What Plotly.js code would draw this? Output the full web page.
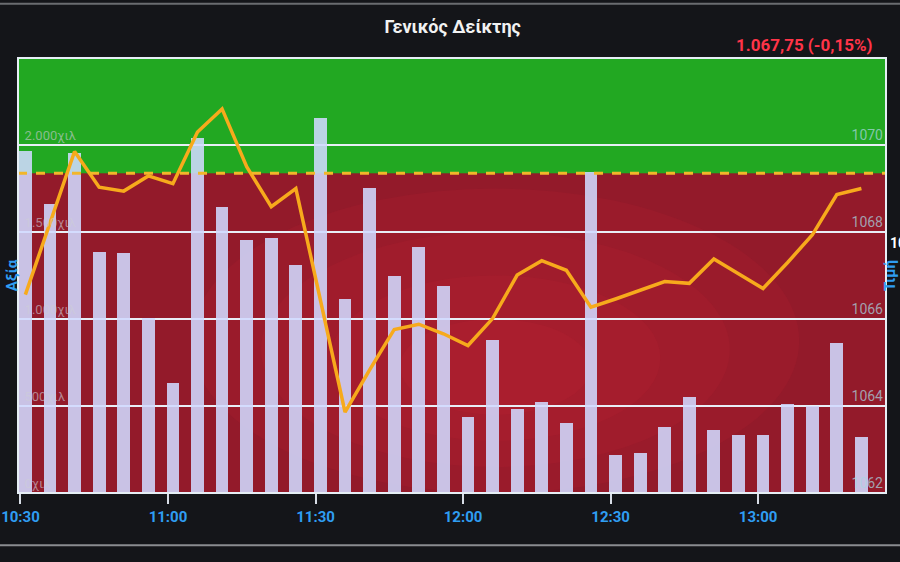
<!DOCTYPE html>
<html>
<head>
<meta charset="utf-8">
<script src="https://cdn.plot.ly/plotly-3.0.1.min.js"></script>
<style>
html,body{margin:0;padding:0;background:#141519;}
#chart{width:900px;height:562px;}
</style>
</head>
<body>
<div id="chart"></div>
<script>
const times = ['10:31','10:36','10:41','10:46','10:51','10:56','11:01','11:06','11:11','11:16','11:21','11:26',
  '11:31','11:36','11:41','11:46','11:51','11:56','12:01','12:06','12:11','12:16','12:21','12:26',
  '12:31','12:36','12:41','12:46','12:51','12:56','13:01','13:06','13:11','13:16','13:21'];
const volumes = [1963,1659,1954,1384,1379,1005,631,2041,1644,1454,1467,1312,
  2157,1113,1755,1247,1416,1192,437,877,485,521,401,1846,
  219,231,377,551,362,334,335,514,500,864,323];
const prices = [1066.56,1068.18,1069.85,1069.03,1068.94,1069.29,1069.11,1070.30,1070.83,1069.50,1068.58,1069.00,
  1066.44,1063.86,1064.83,1065.76,1065.88,1065.66,1065.39,1066.01,1067.01,1067.34,1067.12,1066.27,
  1066.46,1066.65,1066.86,1066.82,1067.38,1067.04,1066.70,1067.30,1067.93,1068.86,1069.00];
const timeTicks = ['10:30','11:00','11:30','12:00','12:30','13:00'];
const volTickVals = [0,500,1000,1500,2000];
const volTickText = ['0χιλ\u2007\u2007\u2007\u2008','500χιλ\u2007\u2008','1.000χιλ','1.500χιλ','2.000χιλ'];
const priceTickVals = [1062,1064,1066,1068,1070];
const priceTickText = ['1062','1064','1066','1068','1070'];
const prevClose = 1069.35;
const lastPrice = '1.067,75 (-0,15%)';
const lastPriceAxis = 1067.75;
const day = '2024-01-01 ';

const x = times.map(t => day + t);

const fontFam = 'Roboto, "DejaVu Sans", sans-serif';

const traces = [
  {
    type: 'bar', x: x, y: volumes, yaxis: 'y', width: 156000,
    marker: {color: 'rgba(208,218,255,0.88)', line: {width: 0}},
    hoverinfo: 'skip'
  },
  {
    type: 'scatter', mode: 'lines', x: x, y: prices, yaxis: 'y2',
    line: {color: '#f7aa1c', width: 3.5},
    hoverinfo: 'skip'
  }
];

const glow = [];
[[0.20,0.90,0.00,0.70,0.10],[0.28,0.82,0.06,0.60,0.10],[0.36,0.74,0.12,0.50,0.10],[0.44,0.66,0.18,0.40,0.10]].forEach(g => {
  glow.push({type: 'circle', xref: 'paper', yref: 'paper', x0: g[0], x1: g[1], y0: g[2], y1: g[3],
    fillcolor: 'rgba(220,40,60,' + g[4] + ')', line: {width: 0}, layer: 'below'});
});

const layout = {
  width: 900, height: 562,
  margin: {l: 18, r: 14, t: 58, b: 69},
  paper_bgcolor: '#141519',
  plot_bgcolor: '#9c1c2b',
  showlegend: false,
  bargap: 0,
  title: {
    text: '<b>Γενικός Δείκτης</b>',
    x: 0.503, xanchor: 'center', y: 0.952, yanchor: 'middle',
    font: {family: fontFam, size: 18, color: '#f2f2f2'}
  },
  xaxis: {
    type: 'date', anchor: 'free', position: 0,
    range: [day + '10:29:30', day + '13:26'],
    tickmode: 'array',
    tickvals: timeTicks.map(t => day + t),
    ticktext: timeTicks,
    ticks: 'outside', ticklen: 10, tickwidth: 2, tickcolor: '#d8dde6',
    tickfont: {family: fontFam, size: 15, color: '#2f9df2', weight: 'bold'},
    ticklabeloverflow: 'allow',
    showgrid: false, zeroline: false,
    showline: false,
    automargin: false
  },
  yaxis: {
    anchor: 'free', position: 0,
    range: [0, 2500],
    tickvals: volTickVals, ticktext: volTickText,
    ticklabelposition: 'outside top',
    ticklabelstandoff: -58,
    tickfont: {family: fontFam, size: 13, color: 'rgba(205,205,215,0.6)'},
    ticks: '',
    showgrid: true, gridcolor: '#e8eef6', gridwidth: 2,
    zeroline: false,
    showline: false,
    title: {text: '<b>Αξία</b>', standoff: 2, font: {family: fontFam, size: 15, color: '#2f9df2'}},
    automargin: false
  },
  yaxis2: {
    overlaying: 'y', side: 'right', anchor: 'free', position: 1,
    range: [1062, 1072],
    tickvals: priceTickVals, ticktext: priceTickText,
    ticklabelposition: 'inside top',
    tickfont: {family: fontFam, size: 14, color: 'rgba(170,215,225,0.72)'},
    ticks: '',
    showgrid: false, zeroline: false, showline: false,
    title: {text: '<b>Τιμή</b>', standoff: 2, font: {family: fontFam, size: 15, color: '#2f9df2'}},
    automargin: false
  },
  shapes: [
    {type: 'rect', xref: 'paper', yref: 'y2', x0: 0, x1: 1, y0: prevClose, y1: 1072,
     fillcolor: '#22a822', line: {width: 0}, layer: 'below'},
    {type: 'rect', xref: 'paper', yref: 'y2', x0: 0, x1: 1, y0: 1062, y1: prevClose,
     fillcolor: '#931a2a', line: {width: 0}, layer: 'below'}
  ].concat(glow).concat([
    {type: 'rect', xref: 'paper', yref: 'y2', x0: 0, x1: 1, y0: prevClose, y1: 1072,
     fillcolor: '#22a822', line: {width: 0}, layer: 'below'},
    {type: 'line', xref: 'paper', yref: 'y2', x0: 0, x1: 1, y0: prevClose, y1: prevClose,
     line: {color: '#f2b62a', width: 3, dash: 'dash'}, layer: 'above'},
    {type: 'rect', xref: 'paper', yref: 'paper', x0: 0, x1: 1, y0: 0, y1: 1,
     line: {color: '#e6eef5', width: 2}, fillcolor: 'rgba(0,0,0,0)', layer: 'above'},
    {type: 'line', xref: 'paper', yref: 'paper', x0: -0.03, x1: 1.03, y0: -0.12, y1: -0.12,
     line: {color: '#8a8c90', width: 2}},
    {type: 'line', xref: 'paper', yref: 'paper', x0: -0.03, x1: 1.03, y0: 1.125, y1: 1.125,
     line: {color: '#6a6c70', width: 2}}
  ]),
  annotations: [
    {text: '<b>' + lastPrice + '</b>', xref: 'paper', yref: 'paper', x: 0.987, y: 1.03,
     xanchor: 'right', yanchor: 'middle', showarrow: false,
     font: {family: fontFam, size: 17, color: '#ff3448'}},
    {text: '<b>1067,75</b>', xref: 'paper', yref: 'y2', x: 1.0, y: lastPriceAxis,
     xanchor: 'left', yanchor: 'middle', showarrow: false, xshift: 2,
     font: {family: fontFam, size: 14, color: '#ffffff'}}
  ]
};

Plotly.newPlot('chart', traces, layout, {staticPlot: true, displayModeBar: false});
</script>
</body>
</html>
